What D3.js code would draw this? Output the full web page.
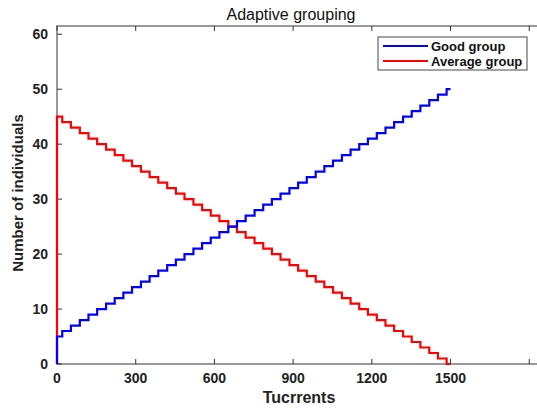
<!DOCTYPE html>
<html>
<head>
<meta charset="utf-8">
<script src="https://cdn.jsdelivr.net/npm/d3@7"></script>
<style>
  body { margin: 0; background: #fff; }
  text { font-family: "Liberation Sans", Arial, sans-serif; }
</style>
</head>
<body>
<svg id="chart" width="537" height="409"></svg>
<script>
// moments when the group sizes change (Tucrrents)
var turnTimes = [0, 0, 20, 53, 87, 120, 153, 187, 220, 253, 286, 320, 353, 386, 420, 453, 486,
    520, 553, 586, 619, 653, 686, 719, 753, 786, 819, 852, 886, 919, 952, 986, 1019, 1052,
    1086, 1119, 1152, 1185, 1219, 1252, 1285, 1319, 1352, 1385, 1419, 1452, 1485, 1500];

var goodCounts = [0, 5, 6, 7, 8, 9, 10, 11, 12, 13, 14, 15, 16, 17, 18, 19, 20, 21, 22, 23, 24,
    25, 26, 27, 28, 29, 30, 31, 32, 33, 34, 35, 36, 37, 38, 39, 40, 41, 42, 43, 44, 45, 46, 47,
    48, 49, 50, 50];

var averageCounts = [0, 45, 44, 43, 42, 41, 40, 39, 38, 37, 36, 35, 34, 33, 32, 31, 30, 29, 28,
    27, 26, 25, 24, 23, 22, 21, 20, 19, 18, 17, 16, 15, 14, 13, 12, 11, 10, 9, 8, 7, 6, 5, 4, 3,
    2, 1, 0, 0];

var xTicks = [0, 300, 600, 900, 1200, 1500, 1800];
var yTicks = [0, 10, 20, 30, 40, 50, 60];

var seriesNames = ["Good group", "Average group"];
var seriesColors = ["#0000ff", "#ff0000"];

var svg = d3.select("#chart");

// plot box edges (the right edge sits just past the window)
var boxLeft = 57, boxRight = 545, boxTop = 26, boxBottom = 364;

var x = d3.scaleLinear().domain([0, 1860]).range([boxLeft, boxRight]);
var y = d3.scaleLinear().domain([0, 61.5]).range([boxBottom, boxTop]);

svg.append("rect").attr("width", 537).attr("height", 409).attr("fill", "#fff");

// 坐标框 (MATLAB style box, ticks pointing inward)
svg.append("rect")
    .attr("x", boxLeft).attr("y", boxTop)
    .attr("width", boxRight - boxLeft).attr("height", boxBottom - boxTop)
    .attr("fill", "none")
    .attr("stroke", "#999")
    .attr("stroke-width", 2);

var tickColor = "#333";

svg.append("g").selectAll("line")
    .data(xTicks)
    .join("line")
    .attr("x1", d => x(d)).attr("x2", d => x(d))
    .attr("y1", boxBottom).attr("y2", boxBottom - 5)
    .attr("stroke", tickColor);

svg.append("g").selectAll("line")
    .data(xTicks)
    .join("line")
    .attr("x1", d => x(d)).attr("x2", d => x(d))
    .attr("y1", boxTop).attr("y2", boxTop + 5)
    .attr("stroke", tickColor);

svg.append("g").selectAll("line")
    .data(yTicks)
    .join("line")
    .attr("x1", boxLeft).attr("x2", boxLeft + 5)
    .attr("y1", d => y(d)).attr("y2", d => y(d))
    .attr("stroke", tickColor);

svg.append("g").selectAll("line")
    .data(yTicks)
    .join("line")
    .attr("x1", boxRight).attr("x2", boxRight - 5)
    .attr("y1", d => y(d)).attr("y2", d => y(d))
    .attr("stroke", tickColor);

// tick labels (1800 falls outside the visible area, skip it)
svg.append("g").selectAll("text")
    .data(xTicks.filter(d => d <= 1500))
    .join("text")
    .attr("x", d => x(d))
    .attr("y", boxBottom + 19)
    .attr("text-anchor", "middle")
    .attr("font-size", 14)
    .attr("font-weight", "bold")
    .attr("fill", "#222")
    .text(d => d);

svg.append("g").selectAll("text")
    .data(yTicks)
    .join("text")
    .attr("x", boxLeft - 9)
    .attr("y", d => y(d) + 5)
    .attr("text-anchor", "end")
    .attr("font-size", 14)
    .attr("font-weight", "bold")
    .attr("fill", "#222")
    .text(d => d);

// 标题和坐标轴名称
svg.append("text")
    .attr("x", 291).attr("y", 20)
    .attr("text-anchor", "middle")
    .attr("font-size", 16)
    .attr("fill", "#111")
    .text("Adaptive grouping");

svg.append("text")
    .attr("x", 299).attr("y", 403)
    .attr("text-anchor", "middle")
    .attr("font-size", 16)
    .attr("font-weight", "bold")
    .attr("fill", "#222")
    .text("Tucrrents");

svg.append("text")
    .attr("transform", "translate(23,193) rotate(-90)")
    .attr("text-anchor", "middle")
    .attr("font-size", 15)
    .attr("font-weight", "bold")
    .attr("fill", "#222")
    .text("Number of individuals");

// step lines, red first so blue sits on top near t = 0
var stepLine = d3.line()
    .x(d => x(d[0]))
    .y(d => y(d[1]))
    .curve(d3.curveStepAfter);

var series = [goodCounts, averageCounts];

[1, 0].forEach(function (k) {
    svg.append("path")
        .datum(turnTimes.map((t, i) => [t, series[k][i]]))
        .attr("d", stepLine)
        .attr("fill", "none")
        .attr("stroke", seriesColors[k])
        .attr("stroke-width", 2.2);
});

// 图例
var legend = svg.append("g").attr("transform", "translate(378,37)");

legend.append("rect")
    .attr("width", 149).attr("height", 33)
    .attr("fill", "#fff")
    .attr("stroke", "#666")
    .attr("stroke-width", 1.2);

legend.selectAll("line")
    .data(seriesNames)
    .join("line")
    .attr("x1", 5).attr("x2", 50)
    .attr("y1", (d, i) => 9 + i * 15).attr("y2", (d, i) => 9 + i * 15)
    .attr("stroke", (d, i) => seriesColors[i])
    .attr("stroke-width", 2);

legend.selectAll("text")
    .data(seriesNames)
    .join("text")
    .attr("x", 53)
    .attr("y", (d, i) => 14 + i * 15)
    .attr("font-size", 13)
    .attr("font-weight", "bold")
    .attr("fill", "#111")
    .text(d => d);
</script>
</body>
</html>
